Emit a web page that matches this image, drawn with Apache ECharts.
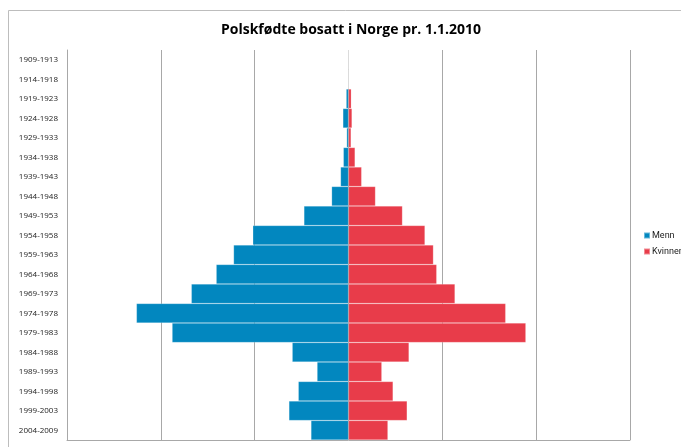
<!DOCTYPE html>
<html>
<head>
<meta charset="utf-8">
<script src="https://cdn.jsdelivr.net/npm/echarts@6/dist/echarts.min.js"></script>
<style>html,body{margin:0;padding:0;background:#fff}#c{width:681px;height:447px}</style>
</head>
<body>
<div id="c"></div>
<script>
var categories = ["1909-1913","1914-1918","1919-1923","1924-1928","1929-1933","1934-1938","1939-1943","1944-1948","1949-1953","1954-1958","1959-1963","1964-1968","1969-1973","1974-1978","1979-1983","1984-1988","1989-1993","1994-1998","1999-2003","2004-2009"];
var menn = [0,0,50,120,40,110,170,360,950,2040,2450,2820,3350,4520,3760,1200,670,1070,1270,800];
var kvinner = [0,0,60,75,55,140,280,575,1150,1630,1810,1880,2270,3350,3780,1290,710,950,1250,840];

var chart = echarts.init(document.getElementById('c'));
chart.setOption({
  animation: false,
  backgroundColor: '#fff',
  title: {
    text: 'Polskfødte bosatt i Norge pr. 1.1.2010',
    left: 346, top: 18, textAlign: 'center',
    textStyle: {fontFamily: 'Open Sans', fontWeight: 'bold', fontSize: 14, color: '#000'}
  },
  graphic: [{type: 'rect', z: -1, shape: {x: 8.5, y: 10.5, width: 800, height: 600}, style: {fill: 'none', stroke: '#bdbdbd', lineWidth: 1}}],
  legend: {
    orient: 'vertical', left: 643, top: 231, padding: 0, itemWidth: 6, itemHeight: 6, itemGap: 7,
    icon: 'rect',
    textStyle: {fontFamily: 'Roboto', fontSize: 9, color: '#222', padding: [0,0,0,-3]},
    data: ['Menn', 'Kvinner']
  },
  grid: {left: 67, right: 51, top: 50, bottom: 7, containLabel: false},
  xAxis: {
    type: 'value', min: -6000, max: 6000, interval: 2000,
    axisLabel: {show: false}, axisTick: {show: false},
    axisLine: {show: true, lineStyle: {color: '#a8a8a8'}},
    splitLine: {show: true, lineStyle: {color: '#a8a8a8', width: 1}}
  },
  yAxis: {
    type: 'category', data: categories, inverse: true,
    axisTick: {show: false},
    axisLine: {show: true, onZero: false, lineStyle: {color: '#a8a8a8'}},
    axisLabel: {fontFamily: 'Open Sans', fontSize: 8, color: '#222', margin: 9}
  },
  series: [
    {name: 'Menn', type: 'bar', stack: 'p', barCategoryGap: 0, data: menn.map(function(v){return -v;}),
     itemStyle: {color: '#0287bf', borderColor: 'rgba(255,255,255,0.4)', borderWidth: 0.5}},
    {name: 'Kvinner', type: 'bar', stack: 'p', barCategoryGap: 0, data: kvinner,
     itemStyle: {color: '#e83c4a', borderColor: 'rgba(255,255,255,0.4)', borderWidth: 0.5}}
  ]
});
</script>
</body>
</html>
